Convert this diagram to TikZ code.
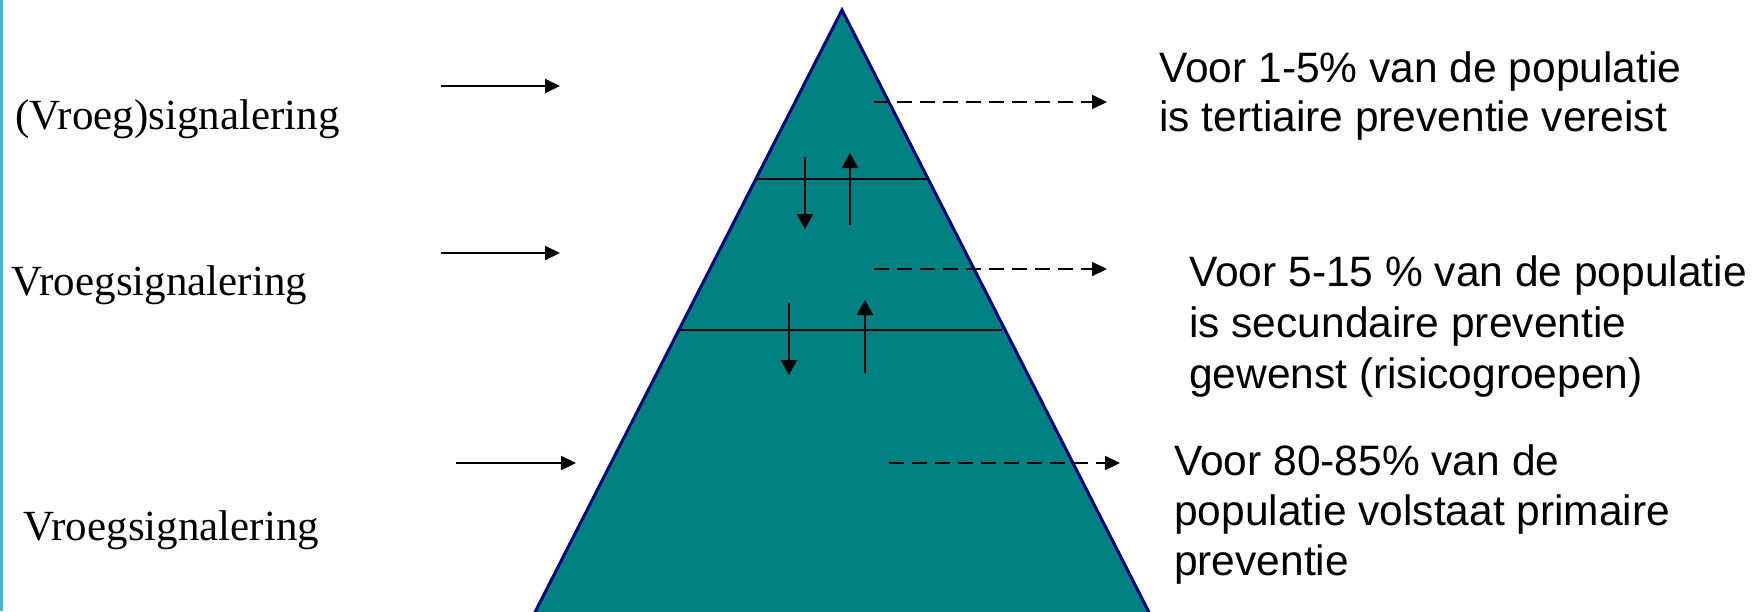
\documentclass[tikz,border=0pt]{standalone}
\usepackage{fontspec}
\setmainfont{Liberation Serif}
\newfontfamily\arialfont{Liberation Sans}
\usetikzlibrary{arrows.meta}
\definecolor{pyrfill}{RGB}{0,128,128}
\definecolor{pyredge}{RGB}{0,0,128}
\definecolor{edgeblue}{RGB}{64,184,222}
\begin{document}
\begin{tikzpicture}[x=1pt,y=-1pt,
  lbl/.style={anchor=base west, inner sep=0pt, font=\fontsize{43}{48}\selectfont},
  rlbl/.style={anchor=base west, inner sep=0pt, align=left},
  solidarrow/.style={line width=2pt, -{Triangle[length=15pt,width=14pt]}},
  dasharrow/.style={line width=2pt, dash pattern=on 15pt off 8pt, -{Triangle[length=15pt,width=14pt]}},
  vertarrow/.style={line width=2pt, -{Triangle[length=15pt,width=16pt]}},
  divider/.style={line width=1.5pt}]
\useasboundingbox (0,0) rectangle (1762,611);
\clip (0,0) rectangle (1762,611);
\fill[white] (0,0) rectangle (1762,611);
\fill[edgeblue] (0,0) rectangle (3,611);
% pyramid
\coordinate (apex) at (842,10);
\coordinate (bl) at (531,620);
\coordinate (br) at (1153,620);
\draw[fill=pyrfill, draw=pyredge, line width=3pt] (apex) -- (bl) -- (br) -- cycle;
% dividers
\coordinate (d1l) at (757,179); \coordinate (d1r) at (928,179);
\coordinate (d2l) at (680,330); \coordinate (d2r) at (1002,330);
\draw[divider] (d1l) -- (d1r);
\draw[divider] (d2l) -- (d2r);
% vertical arrows
\coordinate (a1s) at (805,157); \coordinate (a1e) at (805,229);
\coordinate (a2s) at (850,225); \coordinate (a2e) at (850,153);
\coordinate (a3s) at (789,303); \coordinate (a3e) at (789,375);
\coordinate (a4s) at (865,373); \coordinate (a4e) at (865,300);
\draw[vertarrow] (a1s) -- (a1e);
\draw[vertarrow] (a2s) -- (a2e);
\draw[vertarrow] (a3s) -- (a3e);
\draw[vertarrow] (a4s) -- (a4e);
% dashed arrows
\coordinate (r1s) at (874,102); \coordinate (r1e) at (1107,102);
\coordinate (r2s) at (874,269); \coordinate (r2e) at (1107,269);
\coordinate (r3s) at (889,463); \coordinate (r3e) at (1120,463);
\draw[dasharrow] (r1s) -- (r1e);
\draw[dasharrow] (r2s) -- (r2e);
\draw[dasharrow] (r3s) -- (r3e);
% left solid arrows
\coordinate (l1s) at (441,86); \coordinate (l1e) at (560,86);
\coordinate (l2s) at (441,253); \coordinate (l2e) at (560,253);
\coordinate (l3s) at (456,463); \coordinate (l3e) at (576,463);
\draw[solidarrow] (l1s) -- (l1e);
\draw[solidarrow] (l2s) -- (l2e);
\draw[solidarrow] (l3s) -- (l3e);
% left labels
\node[lbl] (t1) at (15,129) {(Vroeg)signalering};
\node[lbl] (t2) at (11,295) {Vroegsignalering};
\node[lbl] (t3) at (23,540) {Vroegsignalering};
% right labels (anchored at the baseline of the last line)
\node[rlbl, font=\arialfont\fontsize{42.5}{48.4}\selectfont] (b1) at (1159,131) {Voor 1-5\% van de populatie\\is tertiaire preventie vereist};
\node[rlbl, font=\arialfont\fontsize{42.5}{50.6}\selectfont] (b2) at (1189,388) {Voor 5-15 \% van de populatie\\is secundaire preventie\\gewenst (risicogroepen)};
\node[rlbl, font=\arialfont\fontsize{42.5}{50}\selectfont] (b3) at (1174,575) {Voor 80-85\% van de\\populatie volstaat primaire\\preventie};
\end{tikzpicture}
\end{document}
